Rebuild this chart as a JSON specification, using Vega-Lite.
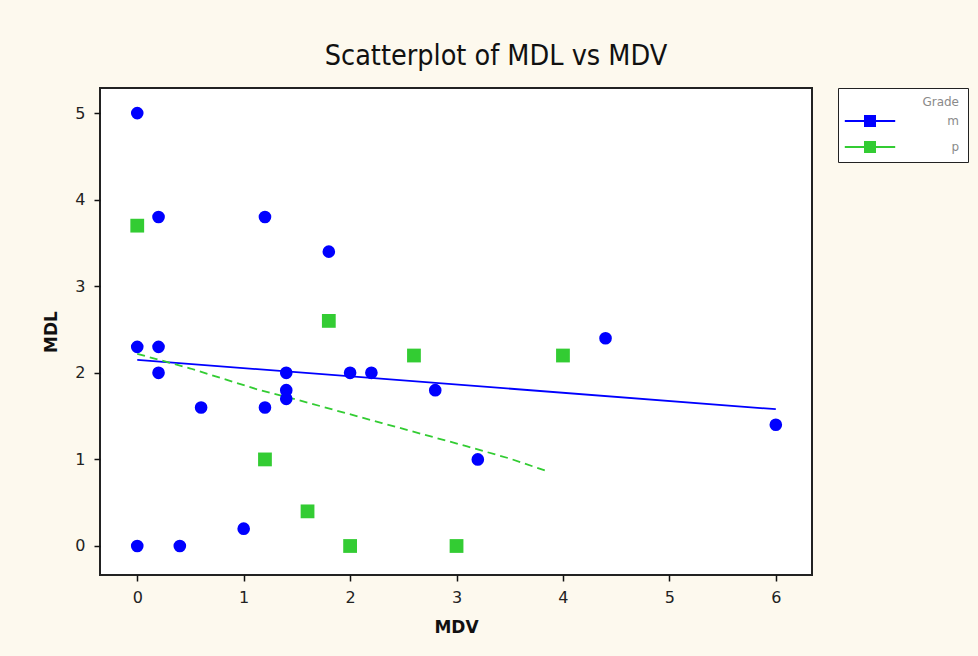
{
  "$schema": "https://vega.github.io/schema/vega-lite/v6.json",
  "autosize": "none",
  "width": 712,
  "height": 487,
  "padding": {"left": 100, "top": 88, "right": 166, "bottom": 81},
  "background": "#fdf9ee",
  "title": {
    "text": "Scatterplot of MDL vs MDV",
    "font": "DejaVu Sans Condensed",
    "fontSize": 28.5,
    "fontWeight": "normal",
    "color": "#111111",
    "anchor": "middle",
    "dx": 40,
    "offset": 17
  },
  "config": {
    "view": {"fill": "white", "stroke": "#222222", "strokeWidth": 2},
    "axis": {
      "grid": false,
      "domain": false,
      "ticks": true,
      "tickColor": "#111111",
      "tickSize": 6,
      "tickWidth": 1.5,
      "labelFont": "DejaVu Sans",
      "labelFontSize": 16,
      "labelColor": "#222222",
      "titleFont": "DejaVu Sans",
      "titleFontSize": 17,
      "titleFontWeight": "bold",
      "titleColor": "#111111"
    }
  },
  "datasets": {
    "pts": [
      {"MDV": 0, "MDL": 5, "Grade": "m"},
      {"MDV": 0.2, "MDL": 3.8, "Grade": "m"},
      {"MDV": 1.2, "MDL": 3.8, "Grade": "m"},
      {"MDV": 1.8, "MDL": 3.4, "Grade": "m"},
      {"MDV": 0, "MDL": 2.3, "Grade": "m"},
      {"MDV": 0.2, "MDL": 2.3, "Grade": "m"},
      {"MDV": 0.2, "MDL": 2.0, "Grade": "m"},
      {"MDV": 0.6, "MDL": 1.6, "Grade": "m"},
      {"MDV": 1.2, "MDL": 1.6, "Grade": "m"},
      {"MDV": 1.4, "MDL": 2.0, "Grade": "m"},
      {"MDV": 1.4, "MDL": 1.8, "Grade": "m"},
      {"MDV": 1.4, "MDL": 1.7, "Grade": "m"},
      {"MDV": 2.0, "MDL": 2.0, "Grade": "m"},
      {"MDV": 2.2, "MDL": 2.0, "Grade": "m"},
      {"MDV": 2.8, "MDL": 1.8, "Grade": "m"},
      {"MDV": 3.2, "MDL": 1.0, "Grade": "m"},
      {"MDV": 4.4, "MDL": 2.4, "Grade": "m"},
      {"MDV": 6.0, "MDL": 1.4, "Grade": "m"},
      {"MDV": 0, "MDL": 0, "Grade": "m"},
      {"MDV": 0.4, "MDL": 0, "Grade": "m"},
      {"MDV": 1.0, "MDL": 0.2, "Grade": "m"},
      {"MDV": 0, "MDL": 3.7, "Grade": "p"},
      {"MDV": 1.8, "MDL": 2.6, "Grade": "p"},
      {"MDV": 2.6, "MDL": 2.2, "Grade": "p"},
      {"MDV": 4.0, "MDL": 2.2, "Grade": "p"},
      {"MDV": 1.2, "MDL": 1.0, "Grade": "p"},
      {"MDV": 1.6, "MDL": 0.4, "Grade": "p"},
      {"MDV": 2.0, "MDL": 0, "Grade": "p"},
      {"MDV": 3.0, "MDL": 0, "Grade": "p"}
    ],
    "fit_m": [
      {"MDV": 0, "MDL": 2.15},
      {"MDV": 6, "MDL": 1.58}
    ],
    "fit_p": [
      {"MDV": 0, "MDL": 2.22},
      {"MDV": 0.5, "MDL": 2.05},
      {"MDV": 1.15, "MDL": 1.8},
      {"MDV": 1.5, "MDL": 1.69},
      {"MDV": 2.3, "MDL": 1.42},
      {"MDV": 3.1, "MDL": 1.15},
      {"MDV": 3.5, "MDL": 1.01},
      {"MDV": 3.86, "MDL": 0.86}
    ]
  },
  "layer": [
    {
      "data": {"name": "fit_m"},
      "mark": {"type": "line", "strokeWidth": 1.8, "color": "#0000ff"},
      "encoding": {
        "x": {"field": "MDV", "type": "quantitative"},
        "y": {"field": "MDL", "type": "quantitative"}
      }
    },
    {
      "data": {"name": "fit_p"},
      "mark": {"type": "line", "strokeWidth": 1.8, "color": "#33cc33", "strokeDash": [8, 5]},
      "encoding": {
        "x": {"field": "MDV", "type": "quantitative"},
        "y": {"field": "MDL", "type": "quantitative"}
      }
    },
    {
      "data": {"name": "pts"},
      "transform": [{"filter": "datum.Grade === 'm'"}],
      "mark": {"type": "point", "filled": true, "opacity": 1, "size": 160, "shape": "circle"},
      "encoding": {
        "x": {
          "field": "MDV",
          "type": "quantitative",
          "scale": {"domain": [-0.35, 6.34], "nice": false, "zero": false},
          "axis": {"values": [0, 1, 2, 3, 4, 5, 6], "format": "d", "title": "MDV", "titlePadding": 14, "labelPadding": 8}
        },
        "y": {
          "field": "MDL",
          "type": "quantitative",
          "scale": {"domain": [-0.335, 5.29], "nice": false, "zero": false},
          "axis": {"values": [0, 1, 2, 3, 4, 5], "format": "d", "title": "MDL", "titlePadding": 14, "labelPadding": 9}
        },
        "color": {
          "field": "Grade",
          "type": "nominal",
          "scale": {"domain": ["m", "p"], "range": ["#0000ff", "#33cc33"]},
          "legend": {
            "orient": "none",
            "legendX": 738,
            "legendY": 0,
            "title": "Grade",
            "titleFont": "DejaVu Sans",
            "titleFontSize": 12,
            "titleFontWeight": "normal",
            "titleColor": "#8a8a8a",
            "titleAnchor": "end",
            "titleAlign": "right",
            "labelFont": "DejaVu Sans",
            "labelFontSize": 12,
            "labelColor": "#8a8a8a",
            "labelAlign": "right",
            "labelOffset": 82,
            "symbolSize": 144,
            "symbolOffset": 16,
            "symbolType": "M-4.2,-0.15H4.2V0.15H-4.2Z M-1,-1H1V1H-1Z",
            "rowPadding": 13,
            "padding": 9,
            "strokeColor": "#222222",
            "fillColor": "white",
            "encode": {
              "legend": {"update": {"strokeWidth": {"value": 2}}},
              "symbols": {"update": {"opacity": {"value": 1}}}
            }
          }
        }
      }
    },
    {
      "data": {"name": "pts"},
      "transform": [{"filter": "datum.Grade === 'p'"}],
      "mark": {"type": "point", "filled": true, "opacity": 1, "size": 190, "shape": "square"},
      "encoding": {
        "x": {"field": "MDV", "type": "quantitative"},
        "y": {"field": "MDL", "type": "quantitative"},
        "color": {"field": "Grade", "type": "nominal"}
      }
    }
  ]
}
